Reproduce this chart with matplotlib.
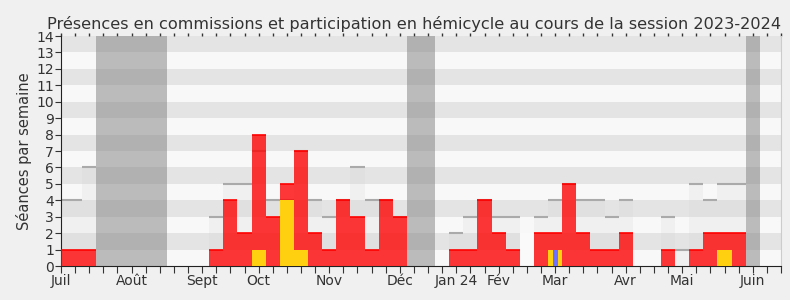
import matplotlib.pyplot as plt
import numpy as np

# one value per week, week 0 = first week of July 2023
semaines = list(range(51))
commission = [1, 1, 1, 0, 0, 0, 0, 0, 0, 0,
              0, 1, 4, 2, 8, 3, 5, 7, 2, 1,
              4, 3, 1, 4, 3, 0, 0, 0, 1, 1,
              4, 2, 1, 0, 2, 2, 5, 2, 1, 1,
              2, 0, 0, 1, 0, 1, 2, 2, 2, 0,
              0]
hemicycle = [0] * 51
hemicycle[14] = 1
hemicycle[16] = 4
hemicycle[17] = 1
hemicycle[35] = 1
hemicycle[47] = 1
questions = [0] * 51
questions[35] = 1
mediane = [4, 4, 6, 0, 0, 0, 0, 0, 0, 0,
           0, 3, 5, 5, 7, 4, 4, 7, 4, 3,
           4, 6, 4, 4, 3, 0, 0, 0, 2, 3,
           4, 3, 3, 0, 3, 4, 5, 4, 4, 3,
           4, 0, 0, 3, 1, 5, 4, 5, 5, 0,
           0]
blanc = [0] * 51
blanc[33] = 2
vacances = [3, 4, 5, 6, 7, 25, 26, 49]
mois_pos = [0, 5, 10, 14, 19, 24, 28, 31, 35, 40, 44, 49]
mois_noms = ["Juil", "Août", "Sept", "Oct", "Nov", "Déc", "Jan 24", "Fév",
             "Mar", "Avr", "Mai", "Juin"]

x = np.array(semaines)

fig = plt.figure(figsize=(7.9, 3.0), dpi=100, facecolor="#f0f0f0")
ax = fig.add_axes([0.0772, 0.1133, 0.9114, 0.7667])

# striped background
for k in range(14):
    ax.axhspan(k, k + 1, color="#f8f8f8" if k % 2 == 0 else "#e4e4e4", lw=0, zorder=0)

# vacations
ax.bar(vacances, 14, width=1, color="#808080", alpha=0.5, lw=0, zorder=1)

# median of deputies
med = np.array(mediane)
ax.bar(x, med, width=1, color="#d0d0d0", alpha=0.2, lw=0, zorder=2)
m = med > 0
ax.hlines(med[m], x[m] - 0.5, x[m] + 0.5, color="#aaaaaa", lw=1.5, zorder=2)
ax.bar(x, blanc, width=1, color="#fafafa", lw=0, zorder=2)

# commission presences
com = np.array(commission)
ax.bar(x, com, width=1, color="#ff0000", alpha=0.78, lw=0, zorder=3)
c = com > 0
ax.hlines(com[c], x[c] - 0.5, x[c] + 0.5, color="#ff0000", lw=1.2, zorder=3)

# hemicycle
ax.bar(x, hemicycle, width=1, color="#ffd010", lw=0, zorder=4)
ax.bar(x, questions, width=0.35, color="#6e6eff", lw=0, zorder=5)

ax.set_xlim(0, 51)
ax.set_ylim(0, 14)
ax.set_yticks(range(15))
labels = [""] * 52
for p, n in zip(mois_pos, mois_noms):
    labels[p] = n
ax.set_xticks(range(52))
ax.set_xticklabels(labels)
ax.tick_params(axis="x", length=5, color="#333333", labelcolor="#333333", labelsize=10, pad=1)
ax.tick_params(axis="y", length=4, color="#333333", labelcolor="#333333", labelsize=10, pad=1)

top = ax.secondary_xaxis("top")
top.set_xticks(range(52))
top.tick_params(length=2, width=1, color="#333333", labeltop=False)
top.spines["top"].set_visible(False)

ax.spines["top"].set_visible(False)
ax.spines["right"].set_color("#cccccc")
ax.spines["left"].set_color("#222222")
ax.spines["bottom"].set_color("#222222")

ax.set_ylabel("Séances par semaine", color="#333333", fontsize=10.5, labelpad=3)
ax.set_title("Présences en commissions et participation en hémicycle au cours de la session 2023-2024",
             color="#333333", fontsize=11.6, pad=5, x=0.491)

fig.savefig("out.png", dpi=100, facecolor=fig.get_facecolor())
